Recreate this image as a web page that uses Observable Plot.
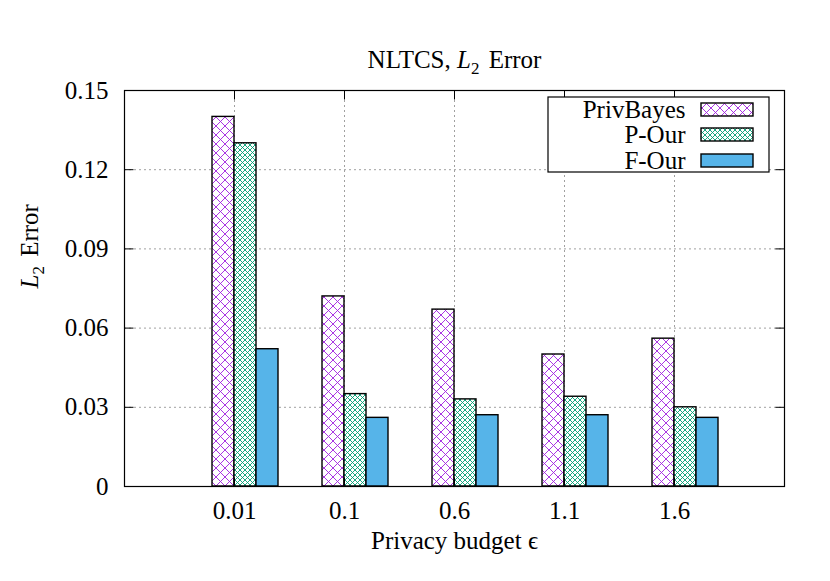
<!DOCTYPE html>
<html>
<head>
<meta charset="utf-8">
<script src="https://cdn.jsdelivr.net/npm/d3@7"></script>
<script src="https://cdn.jsdelivr.net/npm/@observablehq/plot@0.6"></script>
<style>
  html, body { margin: 0; padding: 0; background: #fff; }
  svg text { font-family: "Liberation Serif", "DejaVu Serif", serif !important; }
</style>
</head>
<body>
<div id="chart"></div>
<script>
// ---- data ----
const categories = ["0.01", "0.1", "0.6", "1.1", "1.6"];
const seriesNames = ["PrivBayes", "P-Our", "F-Our"];
const privBayes = [0.140, 0.072, 0.067, 0.050, 0.056];
const pOur      = [0.130, 0.035, 0.033, 0.034, 0.030];
const fOur      = [0.052, 0.026, 0.027, 0.027, 0.026];
const yTicks = [0, 0.03, 0.06, 0.09, 0.12, 0.15];
const yTickLabels = ["0", "0.03", "0.06", "0.09", "0.12", "0.15"];
const titleText = "NLTCS, L₂ Error";
const xLabel = "Privacy budget ϵ";
const yLabel = "L₂ Error";

// ---- layout ----
const W = 830, H = 581, mL = 124, mR = 46, mT = 90, mB = 95;
const xDomain = [0, 6];
const yDomain = [0, 0.15];
const barW = 0.2;
const seriesOffset = [-0.2, 0, 0.2];
const seriesFill = ["url(#hatchPB)", "url(#hatchPO)", "#56b4e9"];
const sx = d3.scaleLinear(xDomain, [mL, W - mR]);
const sy = d3.scaleLinear(yDomain, [H - mB, mT]);
const tickLen = 9;
const FONT = "Liberation Serif";

const valuesBySeries = [privBayes, pOur, fOur];
const rows = categories.flatMap((c, i) =>
  seriesNames.map((s, k) => ({cat: c, pos: i + 1, k, series: s, value: valuesBySeries[k][i]}))
);
const xPositions = categories.map((c, i) => i + 1);
const innerY = yTicks.slice(1, -1);

// legend layout (pixels, converted through the same scales)
const legendBox = {x1: sx.invert(548), x2: sx.invert(769), y1: sy.invert(172), y2: sy.invert(97)};
const legendRows = [109.5, 134.5, 160.5];
const legendItems = seriesNames.map((s, k) => ({
  name: s, k,
  yc: sy.invert(legendRows[k]),
  y1: sy.invert(legendRows[k] + 6.5),
  y2: sy.invert(legendRows[k] - 6.5)
}));

const gridStyle = {stroke: "#a0a0a0", strokeWidth: 1, strokeDasharray: "2,3"};
const txt = {fontFamily: FONT, fontSize: 25, fill: "#000"};

const svg = Plot.plot({
  width: W, height: H,
  marginLeft: mL, marginRight: mR, marginTop: mT, marginBottom: mB,
  style: {fontFamily: FONT, fontSize: "25px", background: "#fff", color: "#000"},
  x: {domain: xDomain, axis: null},
  y: {domain: yDomain, axis: null},
  color: {type: "identity"},
  marks: [
    // grid
    Plot.ruleY(innerY, {y: d => d, ...gridStyle}),
    Plot.ruleX(xPositions, {x: d => d, ...gridStyle}),
    // bars
    Plot.rect(rows, {
      x1: d => d.pos + seriesOffset[d.k],
      x2: d => d.pos + seriesOffset[d.k] + barW,
      y1: 0,
      y2: d => d.value,
      fill: d => seriesFill[d.k],
      stroke: "#000",
      strokeWidth: 1.4
    }),
    // frame
    Plot.frame({stroke: "#000", strokeWidth: 1.2}),
    // inward ticks (left/right for y, top/bottom for x)
    Plot.link(innerY, {x1: xDomain[0], x2: sx.invert(mL + tickLen), y1: d => d, y2: d => d, stroke: "#000"}),
    Plot.link(innerY, {x1: xDomain[1], x2: sx.invert(W - mR - tickLen), y1: d => d, y2: d => d, stroke: "#000"}),
    Plot.link(xPositions, {x1: d => d, x2: d => d, y1: yDomain[1], y2: sy.invert(mT + tickLen), stroke: "#000"}),
    Plot.link(xPositions, {x1: d => d, x2: d => d, y1: yDomain[0], y2: sy.invert(H - mB - tickLen), stroke: "#000"}),
    // tick labels
    Plot.text(yTicks, {x: xDomain[0], y: d => d, text: (d, i) => yTickLabels[i], textAnchor: "end", dx: -16, ...txt}),
    Plot.text(categories, {x: (d, i) => i + 1, y: 0, text: d => d, dy: 24, ...txt}),
    // titles
    Plot.text([titleText], {frameAnchor: "top", dy: -40, text: d => d, ...txt}),
    Plot.text([xLabel], {frameAnchor: "bottom", dy: 62, text: d => d, ...txt}),
    Plot.text([yLabel], {frameAnchor: "left", dx: -95, rotate: -90, text: d => d, ...txt}),
    // legend
    Plot.rect([legendBox], {x1: "x1", x2: "x2", y1: "y1", y2: "y2", fill: "#fff", stroke: "#000", strokeWidth: 1.2}),
    Plot.text(legendItems, {x: sx.invert(685), y: "yc", text: "name", textAnchor: "end", ...txt}),
    Plot.rect(legendItems, {
      x1: sx.invert(701), x2: sx.invert(753), y1: "y1", y2: "y2",
      fill: d => seriesFill[d.k], stroke: "#000", strokeWidth: 1.4
    })
  ]
});

// hatch patterns
const defs = d3.select(svg).insert("defs", ":first-child");
function hatch(id, size, color, sw) {
  const p = defs.append("pattern")
    .attr("id", id).attr("patternUnits", "userSpaceOnUse")
    .attr("width", size).attr("height", size);
  p.append("rect").attr("width", size).attr("height", size).attr("fill", "#fff");
  p.append("path")
    .attr("d", `M0,0L${size},${size}M${size},0L0,${size}`)
    .attr("stroke", color).attr("stroke-width", sw).attr("fill", "none");
}
hatch("hatchPB", 9, "#a020e0", 0.9);
hatch("hatchPO", 5, "#009e73", 0.9);

// italic L with subscript 2
d3.select(svg).selectAll("text").each(function () {
  const t = this.textContent;
  const idx = t.indexOf("L₂");
  if (idx < 0) return;
  const before = t.slice(0, idx), after = t.slice(idx + 2);
  const sel = d3.select(this);
  sel.text(null);
  if (before) sel.append("tspan").text(before);
  sel.append("tspan").attr("font-style", "italic").text("L");
  sel.append("tspan").attr("dy", 6).attr("font-size", "17px").text("2");
  sel.append("tspan").attr("dy", -6).attr("dx", 3).text(after);
});

document.getElementById("chart").appendChild(svg);
</script>
</body>
</html>
